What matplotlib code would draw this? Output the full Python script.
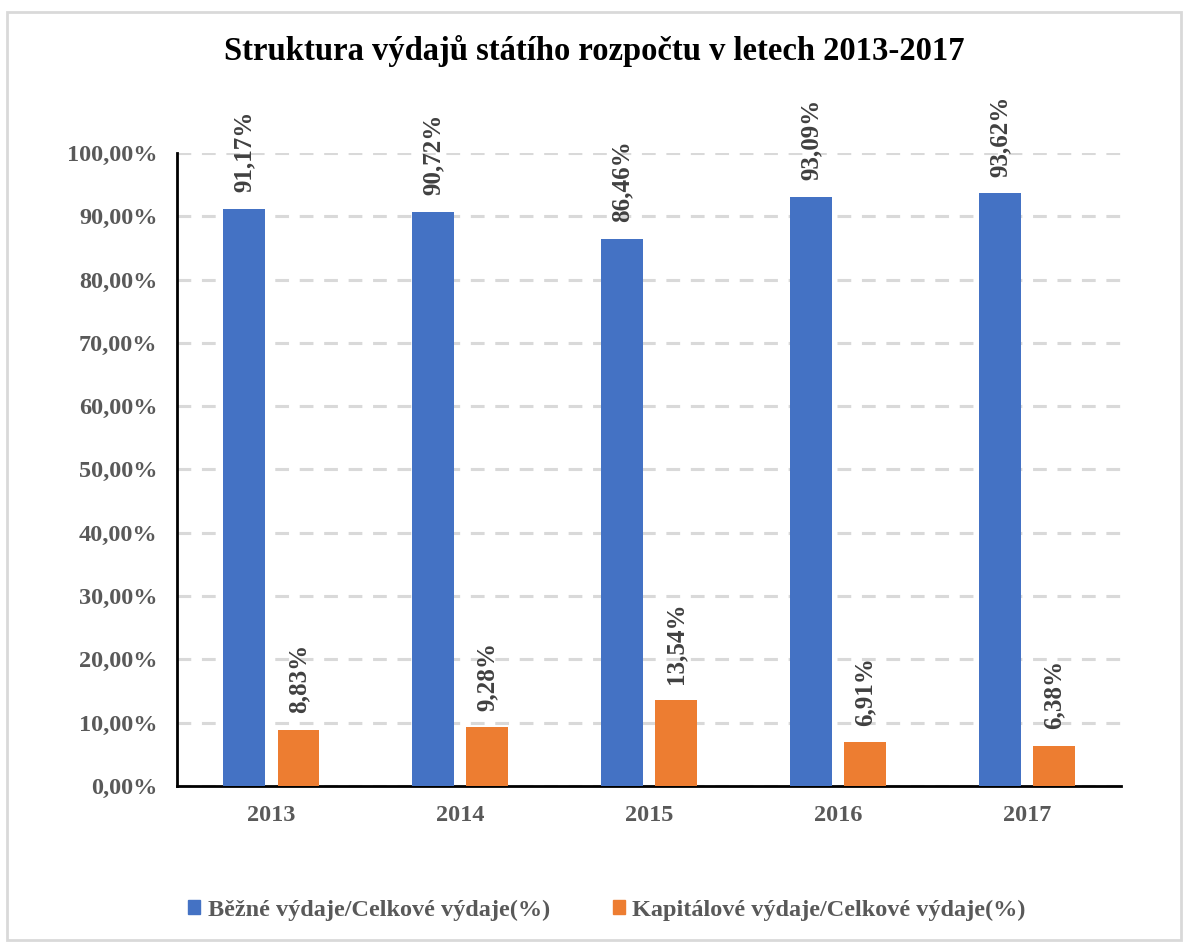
import numpy as np
import matplotlib.pyplot as plt
from matplotlib.patches import Rectangle, Patch

years = ['2013', '2014', '2015', '2016', '2017']
bezne = [91.17, 90.72, 86.46, 93.09, 93.62]
kapital = [8.83, 9.28, 13.54, 6.91, 6.38]
series_names = ['Běžné výdaje/Celkové výdaje(%)', 'Kapitálové výdaje/Celkové výdaje(%)']
title = 'Struktura výdajů státího rozpočtu v letech 2013-2017'

blue = '#4472C4'
orange = '#ED7D31'
grey_txt = '#595959'

plt.rcParams['font.family'] = ['Liberation Serif', 'DejaVu Serif']
plt.rcParams['font.weight'] = 'bold'

fig = plt.figure(figsize=(11.88, 9.44), dpi=100)
ax = fig.add_axes([0.149, 0.1674, 0.795, 0.6706])

x = np.arange(len(years))
w = 0.222
off = 0.143
b1 = ax.bar(x - off, bezne, w, color=blue, zorder=3)
b2 = ax.bar(x + off, kapital, w, color=orange, zorder=3)

for bars, vals in ((b1, bezne), (b2, kapital)):
    for r, v in zip(bars, vals):
        ax.annotate(f'{v:.2f}%'.replace('.', ','),
                    (r.get_x() + r.get_width() / 2, v),
                    xytext=(0, 12), textcoords='offset points',
                    rotation=90, ha='center', va='bottom',
                    fontsize=18, fontweight='bold', color='#404040')

ax.set_xlim(-0.5, len(years) - 0.5)
ax.set_ylim(0, 100)
ax.set_yticks(np.arange(0, 101, 10))
ax.set_yticklabels([f'{v:.2f}%'.replace('.', ',') for v in np.arange(0, 101, 10)])
ax.set_xticks(x)
ax.set_xticklabels(years)
ax.tick_params(axis='y', length=0, labelsize=17.5, labelcolor=grey_txt, pad=14)
ax.tick_params(axis='x', length=0, labelsize=17.5, labelcolor=grey_txt, pad=14)
for lab in ax.get_xticklabels() + ax.get_yticklabels():
    lab.set_fontweight('bold')

ax.yaxis.grid(True, color='#D9D9D9', linewidth=2.2, linestyle=(0, (4.5, 3.5)), zorder=0)
ax.set_axisbelow(True)
for s in ['top', 'right']:
    ax.spines[s].set_visible(False)
for s in ['left', 'bottom']:
    ax.spines[s].set_linewidth(2)
    ax.spines[s].set_color('black')

fig.text(0.5, 0.946, title, ha='center', va='center', fontsize=23.5, fontweight='bold', color='black')

handles = [Patch(color=blue), Patch(color=orange)]
fig.legend(handles, series_names, loc='center', bbox_to_anchor=(0.511, 0.036), ncol=2,
           frameon=False, prop={'size': 17.5, 'weight': 'bold'}, labelcolor=grey_txt,
           handlelength=0.5, handleheight=0.5, handletextpad=0.3, columnspacing=2.6)

fig.patches.append(Rectangle((0.006, 0.004), 0.988, 0.983, transform=fig.transFigure,
                             fill=False, edgecolor='#D9D9D9', linewidth=2))

fig.savefig('out.png', dpi=100)
